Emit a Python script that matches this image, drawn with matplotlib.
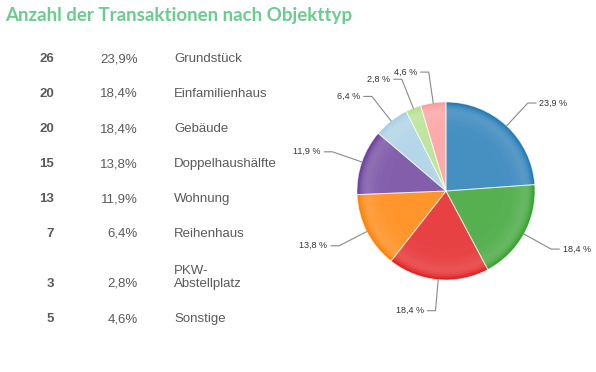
import numpy as np
import matplotlib.pyplot as plt
from matplotlib.colors import to_rgb

# data
counts = [26, 20, 20, 15, 13, 7, 3, 5]
shares = [23.9, 18.4, 18.4, 13.8, 11.9, 6.4, 2.8, 4.6]
labels = ["Grundstück", "Einfamilienhaus", "Gebäude", "Doppelhaushälfte",
          "Wohnung", "Reihenhaus", "PKW-\nAbstellplatz", "Sonstige"]
colors = ["#1f78b4", "#33a02c", "#e31a1c", "#ff7f00",
          "#6a3d9a", "#a6cee3", "#b2df8a", "#fb9a99"]

W, H = 596, 372
fig = plt.figure(figsize=(W / 100, H / 100), dpi=100)
fig.patch.set_facecolor("white")


def fx(px):
    return px / W


def fy(py):
    return 1 - py / H


def fmt(v):
    return f"{v:.1f}".replace(".", ",")


# title
fig.text(fx(5), fy(15), "Anzahl der Transaktionen nach Objekttyp",
         family="Lato", weight="bold", fontsize=13.5, color="#6ccb8e",
         va="center", ha="left")

# left table
txt = "#5a5a5a"
y = 62
for i, (c, s, lab) in enumerate(zip(counts, shares, labels)):
    if "\n" in lab:
        y += 15
    fig.text(fx(54), fy(y), str(c), ha="right", va="baseline", fontsize=9.5,
             weight="bold", color=txt, family="Liberation Sans")
    fig.text(fx(138), fy(y), fmt(s) + "%", ha="right", va="baseline",
             fontsize=9.5, color=txt, family="Liberation Sans")
    fig.text(fx(174), fy(y), lab, ha="left", va="baseline", fontsize=9.5,
             color=txt, family="Liberation Sans", linespacing=1.15)
    y += 35

# pie, radius 1 == 89 px, centre at (446, 191)
cx, cy, r = 446, 191, 89
ax = fig.add_axes([fx(cx - 2 * r), fy(cy + 2 * r), 4 * r / W, 4 * r / H])


def blend(col, amt):
    c = np.array(to_rgb(col))
    return tuple(c + (1 - c) * amt)


# shading: dark rim, light band near the edge, medium interior
layers = [(1.00, 0.00), (0.985, 0.06), (0.97, 0.12), (0.955, 0.17),
          (0.94, 0.21), (0.92, 0.24), (0.90, 0.25), (0.87, 0.24),
          (0.84, 0.22), (0.80, 0.20), (0.75, 0.18), (0.65, 0.17)]
for rad, amt in layers:
    ax.pie(shares, radius=rad, startangle=90, counterclock=False,
           colors=[blend(c, amt) for c in colors],
           wedgeprops=dict(linewidth=0))

wedges, _ = ax.pie(shares, radius=1, startangle=90, counterclock=False,
                   wedgeprops=dict(fill=False, edgecolor=(1, 1, 1, 0.6),
                                   linewidth=0.7))

# labels with leader lines
for w, s in zip(wedges, shares):
    ang = np.deg2rad((w.theta1 + w.theta2) / 2)
    ca, sa = np.cos(ang), np.sin(ang)
    p0 = (1.0 * ca, 1.0 * sa)
    p1 = (1.35 * ca, 1.35 * sa)
    side = 1 if ca >= 0 else -1
    p2 = (p1[0] + side * 0.09, p1[1])
    ax.plot([p0[0], p1[0], p2[0]], [p0[1], p1[1], p2[1]],
            color="#8a8a8a", lw=0.8)
    ax.text(p2[0] + side * 0.04, p2[1], fmt(s) + " %",
            ha="left" if side > 0 else "right", va="center",
            fontsize=6.5, color="#333333", family="Liberation Sans")

ax.set_xlim(-2, 2)
ax.set_ylim(-2, 2)
ax.set_aspect("auto")
ax.axis("off")

fig.savefig("out.png", dpi=100, facecolor="white")
